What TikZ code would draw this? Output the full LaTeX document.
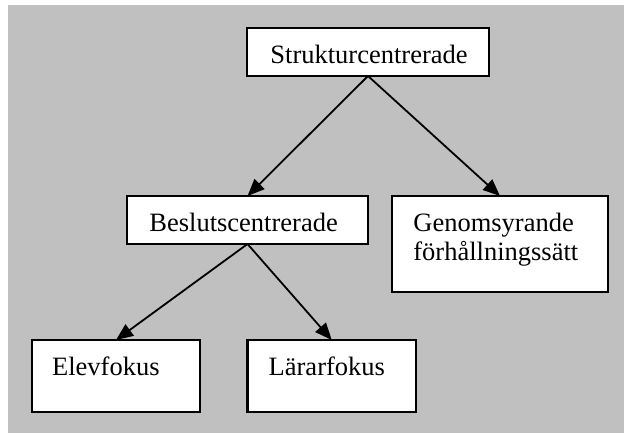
\documentclass[tikz,border=0pt]{standalone}
\usepackage{fontspec}
\setmainfont{Liberation Serif}
\usetikzlibrary{arrows.meta}
\definecolor{bggray}{HTML}{C0C0C0}
\begin{document}
\begin{tikzpicture}[x=0.5pt,y=-0.5pt,
  box/.style={draw=black, fill=white, line width=1.1pt, inner sep=0pt, outer sep=0pt},
  lbl/.style={anchor=base west, inner sep=0pt, font=\fontsize{13.25pt}{14pt}\selectfont},
  conn/.style={line width=0.9pt, -{Triangle[length=8.5pt,width=7pt]}}]
\useasboundingbox (0,0) rectangle (624,433);
\fill[bggray] (8,5) rectangle (624,433);
\node[box, minimum width=121pt, minimum height=24pt] (s) at (368,52) {};
\node[box, minimum width=120.5pt, minimum height=24pt] (b) at (247.5,220) {};
\node[box, minimum width=108pt, minimum height=48pt] (g) at (500,244) {};
\node[box, minimum width=84pt, minimum height=36pt] (e) at (116,376) {};
\node[box, minimum width=84.25pt, minimum height=36pt] (l) at (331.75,376) {};
\node[lbl] (st) at (270,63.5) {Strukturcentrerade};
\node[lbl] (bt) at (149,231.5) {Beslutscentrerade};
\node[lbl] (gt1) at (413,231.5) {Genomsyrande};
\node[lbl] (gt2) at (413,260) {förhållningssätt};
\node[lbl] (et) at (51.7,375.7) {Elevfokus};
\node[lbl] (lt) at (268.3,375.7) {Lärarfokus};
\draw[conn] (s.south) -- (b.north);
\draw[conn] (s.south) -- (g.north);
\draw[conn] (b.south) -- (e.north);
\draw[conn] (b.south) -- (l.north);
\end{tikzpicture}
\end{document}
